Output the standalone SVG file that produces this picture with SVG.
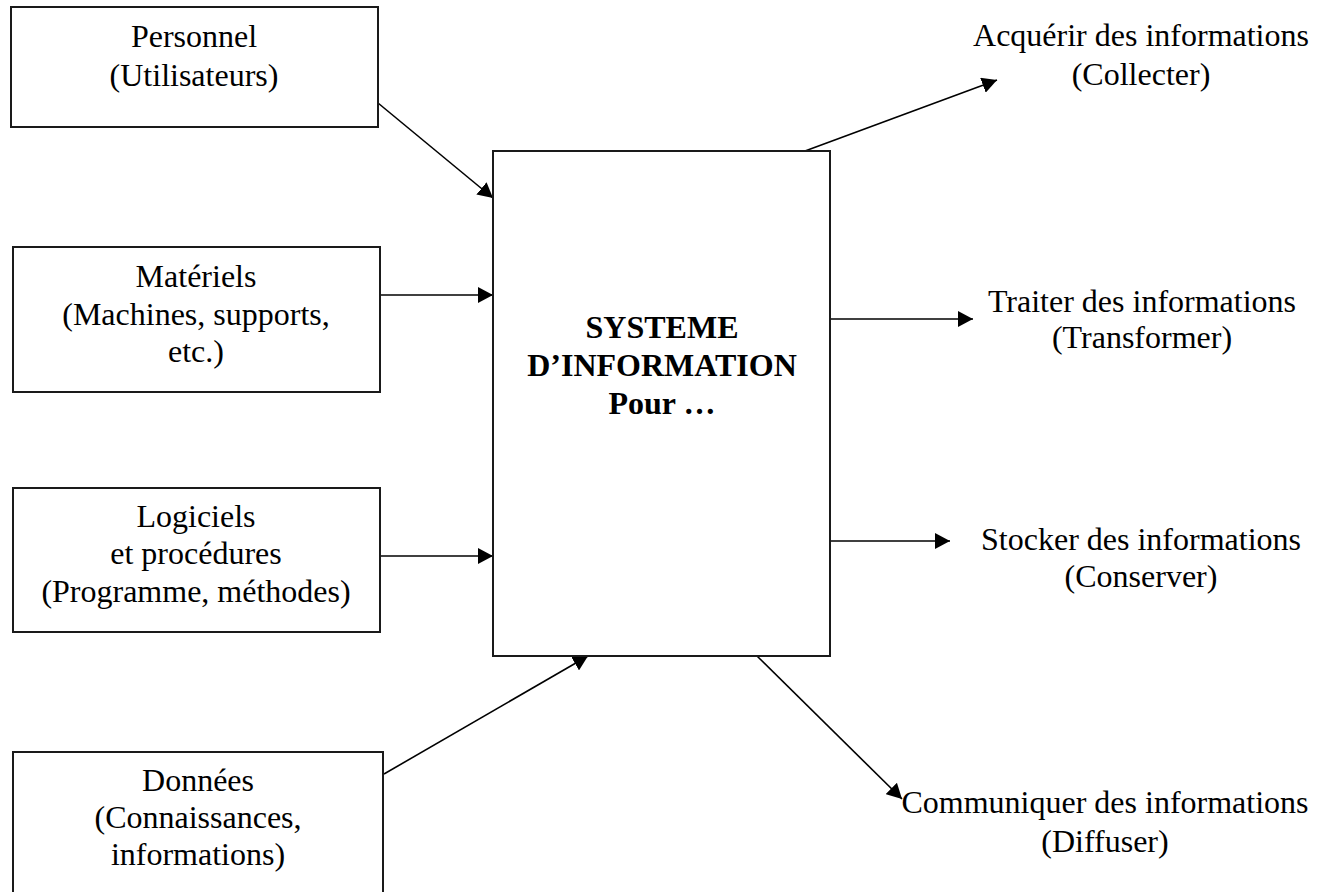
<svg xmlns="http://www.w3.org/2000/svg" width="1327" height="892" viewBox="0 0 1327 892">
<style>
.box{fill:#fff;stroke:#1a1a1a;stroke-width:2}
.t{font-family:"Liberation Serif","Times New Roman",serif;font-size:32px;fill:#000;text-anchor:middle}
.b{font-weight:bold}
.c{stroke:#000;stroke-width:1.6;fill:none;marker-end:url(#ah)}
</style>
<defs>
<marker id="ah" markerUnits="userSpaceOnUse" markerWidth="16" markerHeight="16" refX="15" refY="8" orient="auto">
<path d="M0,0 L15,8 L0,16 z" fill="#000"/>
</marker>
</defs>
<rect width="1327" height="892" fill="#fff"/>
<g id="connectors">
<line class="c" x1="378" y1="103" x2="493" y2="198"/>
<line class="c" x1="380" y1="295" x2="493" y2="295"/>
<line class="c" x1="377" y1="556" x2="493" y2="556"/>
<line class="c" x1="384" y1="774" x2="588" y2="656"/>
<line class="c" x1="805" y1="151" x2="997" y2="80"/>
<line class="c" x1="830" y1="319" x2="973" y2="319"/>
<line class="c" x1="830" y1="541" x2="950" y2="541"/>
<line class="c" x1="757" y1="656" x2="902" y2="799"/>
</g>
<g id="personnel">
<rect class="box" x="11" y="7" width="367" height="120"/>
<text class="t" x="194" y="47">Personnel</text>
<text class="t" x="194" y="86">(Utilisateurs)</text>
</g>
<g id="materiels">
<rect class="box" x="13" y="247" width="367" height="145"/>
<text class="t" x="196" y="287">Matériels</text>
<text class="t" x="196" y="325">(Machines, supports,</text>
<text class="t" x="196" y="362">etc.)</text>
</g>
<g id="logiciels">
<rect class="box" x="13" y="488" width="367" height="144"/>
<text class="t" x="196" y="527">Logiciels</text>
<text class="t" x="196" y="564">et procédures</text>
<text class="t" x="196" y="602">(Programme, méthodes)</text>
</g>
<g id="donnees">
<rect class="box" x="13" y="752" width="370" height="160"/>
<text class="t" x="198" y="791">Données</text>
<text class="t" x="198" y="828">(Connaissances,</text>
<text class="t" x="198" y="865">informations)</text>
</g>
<g id="systeme">
<rect class="box" x="493" y="151" width="337" height="505"/>
<text class="t b" x="662" y="338">SYSTEME</text>
<text class="t b" x="662" y="376">D’INFORMATION</text>
<text class="t b" x="662" y="414">Pour …</text>
</g>
<g id="acquerir">
<text class="t" x="1141" y="46">Acquérir des informations</text>
<text class="t" x="1141" y="85">(Collecter)</text>
</g>
<g id="traiter">
<text class="t" x="1142" y="312">Traiter des informations</text>
<text class="t" x="1142" y="348">(Transformer)</text>
</g>
<g id="stocker">
<text class="t" x="1141" y="550">Stocker des informations</text>
<text class="t" x="1141" y="587">(Conserver)</text>
</g>
<g id="communiquer">
<text class="t" x="1105" y="813">Communiquer des informations</text>
<text class="t" x="1105" y="852">(Diffuser)</text>
</g>
</svg>
